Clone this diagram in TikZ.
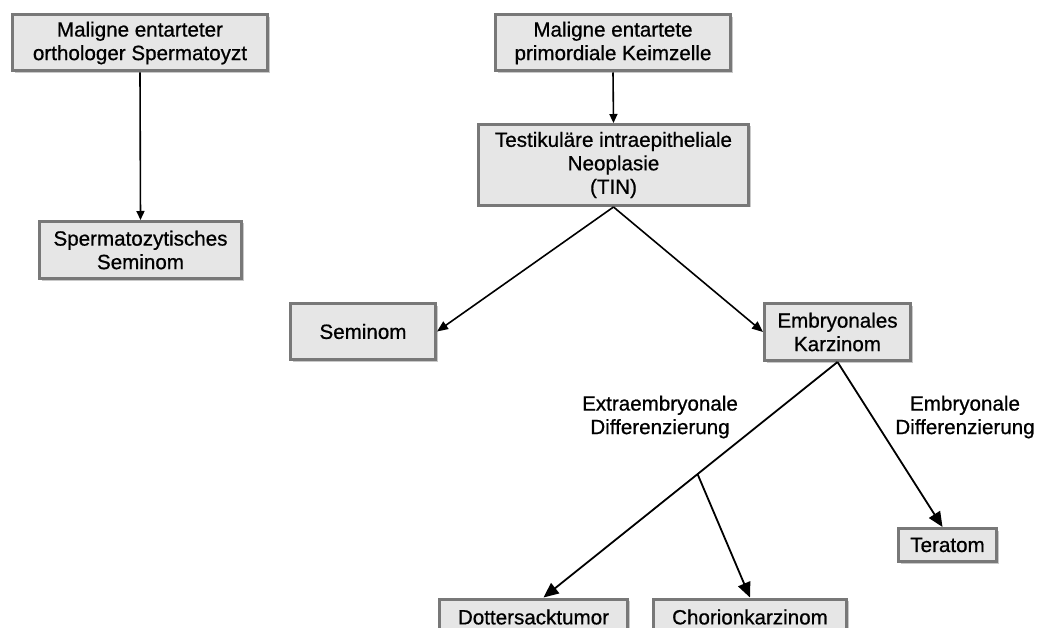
\documentclass[tikz,border=0pt]{standalone}
\usepackage{fontspec}
\setmainfont{Liberation Sans}[BoldFont={Liberation Sans}, BoldFeatures={FakeBold=0.7}]
\usetikzlibrary{arrows.meta,shadows,calc}
\definecolor{boxfill}{RGB}{230,230,230}
\definecolor{boxline}{RGB}{120,120,120}
\begin{document}
\begin{tikzpicture}[x=1pt,y=-1pt,
  font=\fontsize{20.6}{23.5}\selectfont\bfseries,
  box/.style={draw=boxline, line width=3pt, fill=boxfill, align=center,
    inner sep=0pt, drop shadow={shadow xshift=2pt, shadow yshift=-2pt, opacity=0.35, fill=black!60}},
  conn/.style={line width=1.6pt, -{Triangle[length=9pt,width=8pt]}},
  bigconn/.style={line width=1.8pt, -{Triangle[length=15pt,width=13pt]}},
  lbl/.style={align=center, inner sep=0pt}]
\useasboundingbox (0,0) rectangle (1040,628);
\fill[white] (0,0) rectangle (1040,628);
\node[box, minimum width=255pt, minimum height=56pt] (A) at (140,43) {Maligne entarteter\\orthologer Spermatoyzt};
\node[box, minimum width=202pt, minimum height=57pt] (B) at (140.5,250) {Spermatozytisches\\Seminom};
\node[box, minimum width=235pt, minimum height=56pt] (C) at (613,43) {Maligne entartete\\primordiale Keimzelle};
\node[box, minimum width=270pt, minimum height=81pt] (D) at (613.5,165) {Testikuläre intraepitheliale\\Neoplasie\\(TIN)};
\node[box, minimum width=145pt, minimum height=56pt] (Sem) at (363,331.5) {Seminom};
\node[box, minimum width=146pt, minimum height=57pt] (EK) at (837.5,332) {Embryonales\\Karzinom};
\node[box, minimum width=98pt, minimum height=33pt] (Ter) at (947.5,545) {Teratom};
\node[box, minimum width=188pt, minimum height=36pt] (Dot) at (533.5,617) {Dottersacktumor};
\node[box, minimum width=193pt, minimum height=36pt] (Cho) at (750,617) {Chorionkarzinom};
\node[lbl] (L1) at (660,417) {Extraembryonale\\Differenzierung};
\node[lbl] (L2) at (965,417) {Embryonale\\Differenzierung};
\coordinate (dtip) at ([xshift=10pt]Dot.north);
\coordinate (split) at ($(EK.south)!0.476!(dtip)$);
\draw[conn] (A.south) -- (B.north);
\draw[conn] (C.south) -- (D.north);
\draw[conn,-{Triangle[length=11pt,width=9pt]}] (D.south) -- (Sem.east);
\draw[conn,-{Triangle[length=11pt,width=9pt]}] (D.south) -- (EK.west);
\draw[bigconn] (EK.south) -- (dtip);
\draw[bigconn] (EK.south) -- ([xshift=-5pt]Ter.north);
\draw[bigconn] (split) -- (Cho.north);
\end{tikzpicture}
\end{document}
